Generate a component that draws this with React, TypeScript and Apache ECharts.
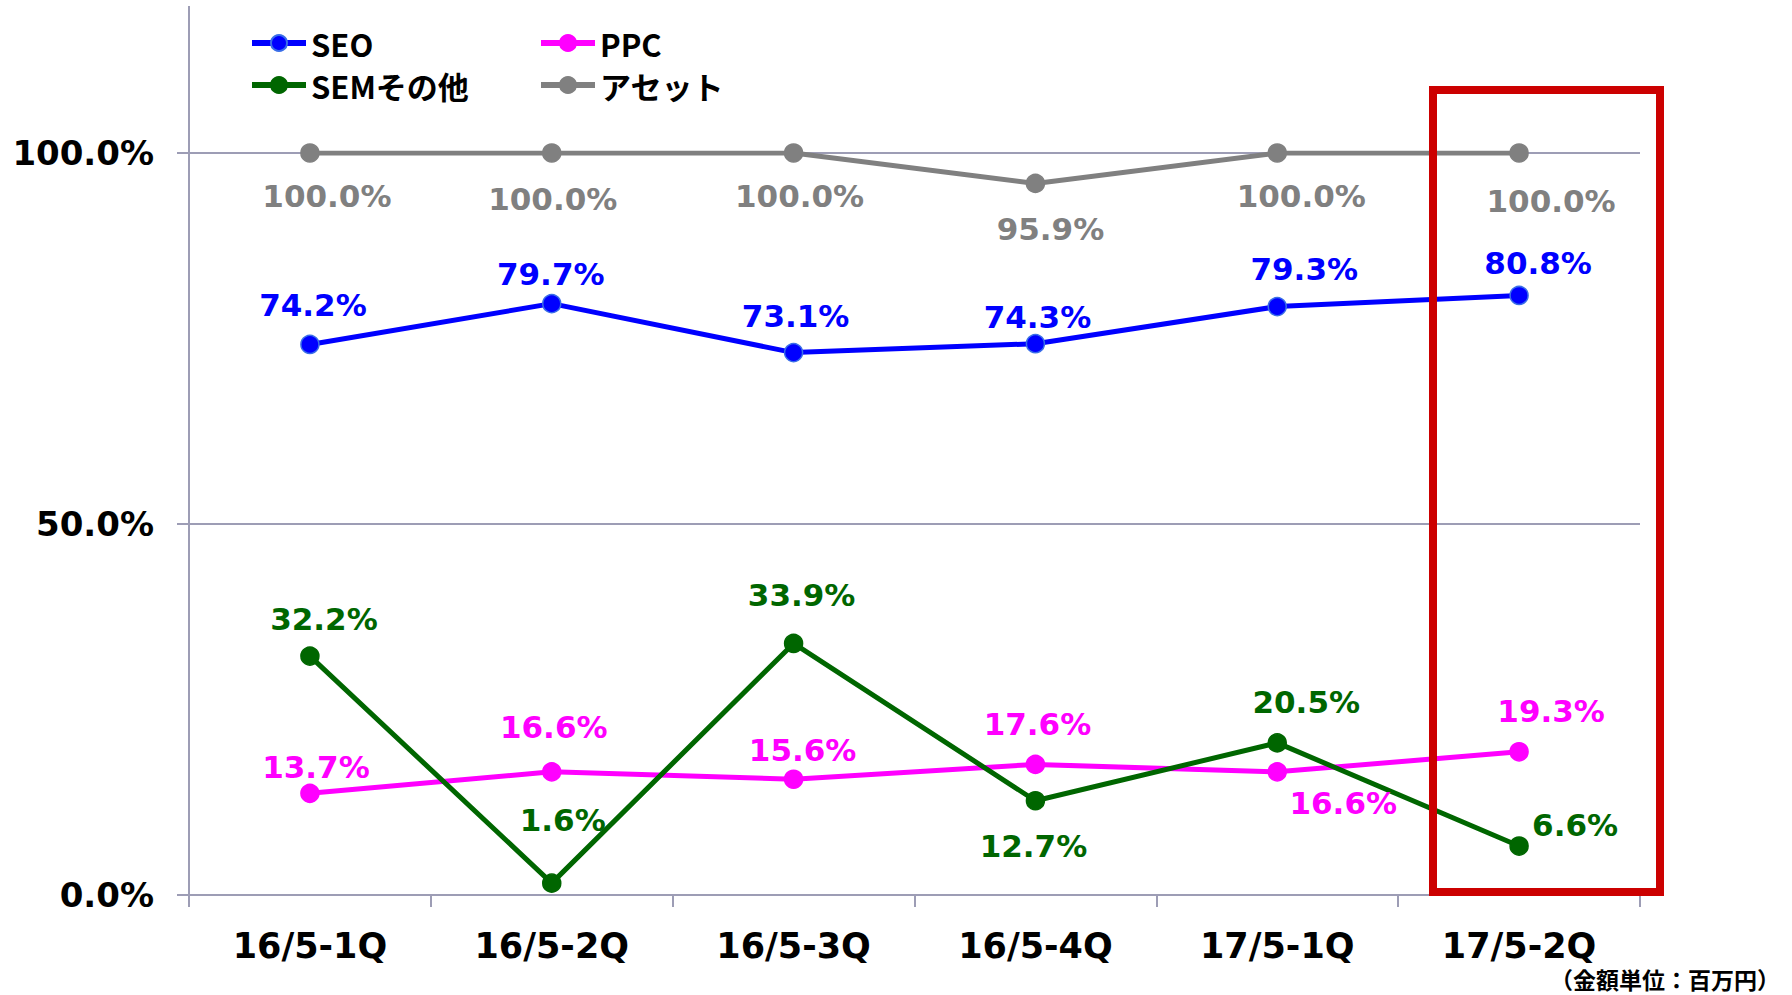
import React, { useEffect, useRef } from "react";
import * as echarts from "echarts";

const categories = ["16/5-1Q", "16/5-2Q", "16/5-3Q", "16/5-4Q", "17/5-1Q", "17/5-2Q"];
const seoValues = [74.2, 79.7, 73.1, 74.3, 79.3, 80.8];
const ppcValues = [13.7, 16.6, 15.6, 17.6, 16.6, 19.3];
const semValues = [32.2, 1.6, 33.9, 12.7, 20.5, 6.6];
const assetValues = [100, 100, 100, 95.9, 100, 100];
const yTicks = [0, 50, 100];

// label offsets (centre of label relative to point)
const seoLabelOffsets = [[3, -39], [-1, -30], [2, -37], [2, -27], [27, -38], [19, -32]];
const ppcLabelOffsets = [[6, -26], [2, -45], [9, -29], [2, -40], [66, 31], [32, -41]];
const semLabelOffsets = [[14, -37], [11, -63], [8, -48], [-2, 45], [29, -41], [56, -21]];
const assetLabelOffsets = [[17, 43], [1, 46], [6, 43], [15, 46], [24, 43], [32, 48]];

const AXIS_COLOR = "#9d9db5";
const LABEL_FONT = "'DejaVu Sans', Verdana, sans-serif";
const JP_FONT = "'Noto Sans CJK JP', sans-serif";

function makeSeries(name: string, values: number[], offsets: number[][], color: string, border: string) {
  return {
    name,
    type: "line",
    data: values,
    symbol: "circle",
    symbolSize: 18,
    lineStyle: { color, width: 5 },
    itemStyle: { color, borderColor: border, borderWidth: 1.5 },
    label: {
      show: true,
      position: "inside",
      align: "center",
      verticalAlign: "middle",
      color,
      fontFamily: LABEL_FONT,
      fontWeight: "bold",
      fontSize: 31,
      formatter: (p: any) => Number(p.value).toFixed(1) + "%",
    },
    labelLayout: (p: any) => ({
      dx: offsets[p.dataIndex][0],
      dy: offsets[p.dataIndex][1],
      hideOverlap: false,
    }),
  };
}

const legendCommon = {
  orient: "vertical",
  top: 22,
  itemWidth: 54,
  itemHeight: 20,
  itemGap: 10,
  lineStyle: { width: 6 },
  textStyle: { fontFamily: JP_FONT, fontWeight: "bold", fontSize: 31, lineHeight: 32, color: "#000" },
};

export default function App() {
  const ref = useRef<HTMLDivElement>(null);
  useEffect(() => {
    if (!ref.current) return;
    const chart = echarts.init(ref.current, undefined, { renderer: "svg" });
    chart.setOption({
      animation: false,
      backgroundColor: "#ffffff",
      grid: { left: 189, right: 152, top: 153, bottom: 100, containLabel: false },
      legend: [
        { ...legendCommon, data: ["SEO", "SEMその他"], left: 244 },
        { ...legendCommon, data: ["PPC", "アセット"], left: 533 },
      ],
      xAxis: {
        type: "category",
        data: categories,
        boundaryGap: true,
        axisLine: { lineStyle: { color: AXIS_COLOR, width: 2 } },
        axisTick: { show: true, length: 12, lineStyle: { color: AXIS_COLOR, width: 2 } },
        axisLabel: {
          margin: 33,
          color: "#000",
          fontFamily: LABEL_FONT,
          fontWeight: "bold",
          fontSize: 35,
        },
        splitLine: { show: false },
      },
      yAxis: {
        type: "value",
        min: yTicks[0],
        max: yTicks[yTicks.length - 1],
        interval: 50,
        axisLine: { show: true, lineStyle: { color: AXIS_COLOR, width: 2 } },
        axisTick: { show: true, length: 12, lineStyle: { color: AXIS_COLOR, width: 2 } },
        axisLabel: {
          margin: 35,
          color: "#000",
          fontFamily: LABEL_FONT,
          fontWeight: "bold",
          fontSize: 34,
          formatter: (v: number) => v.toFixed(1) + "%",
        },
        splitLine: { show: true, lineStyle: { color: AXIS_COLOR, width: 2 } },
      },
      series: [
        makeSeries("SEO", seoValues, seoLabelOffsets, "#0000ff", "#3a6ee8"),
        makeSeries("PPC", ppcValues, ppcLabelOffsets, "#ff00ff", "#ff00ff"),
        makeSeries("SEMその他", semValues, semLabelOffsets, "#006600", "#006600"),
        makeSeries("アセット", assetValues, assetLabelOffsets, "#808080", "#808080"),
      ],
      graphic: [
        {
          type: "line",
          shape: { x1: 189, y1: 6, x2: 189, y2: 153 },
          style: { stroke: AXIS_COLOR, lineWidth: 2 },
          z: 1,
        },
        {
          type: "rect",
          shape: { x: 1433, y: 90, width: 227, height: 802 },
          style: { fill: "none", stroke: "#cc0000", lineWidth: 8 },
          z: 10,
        },
        {
          type: "text",
          right: 12,
          top: 967,
          style: {
            text: "（金額単位：百万円）",
            fontFamily: JP_FONT,
            fontWeight: "bold",
            fontSize: 23,
            lineHeight: 24,
            fill: "#000",
          },
        },
      ],
    });
    return () => chart.dispose();
  }, []);
  return (
    <div
      ref={ref}
      style={{ position: "fixed", left: 0, top: 0, width: 1792, height: 995, background: "#fff" }}
    />
  );
}
